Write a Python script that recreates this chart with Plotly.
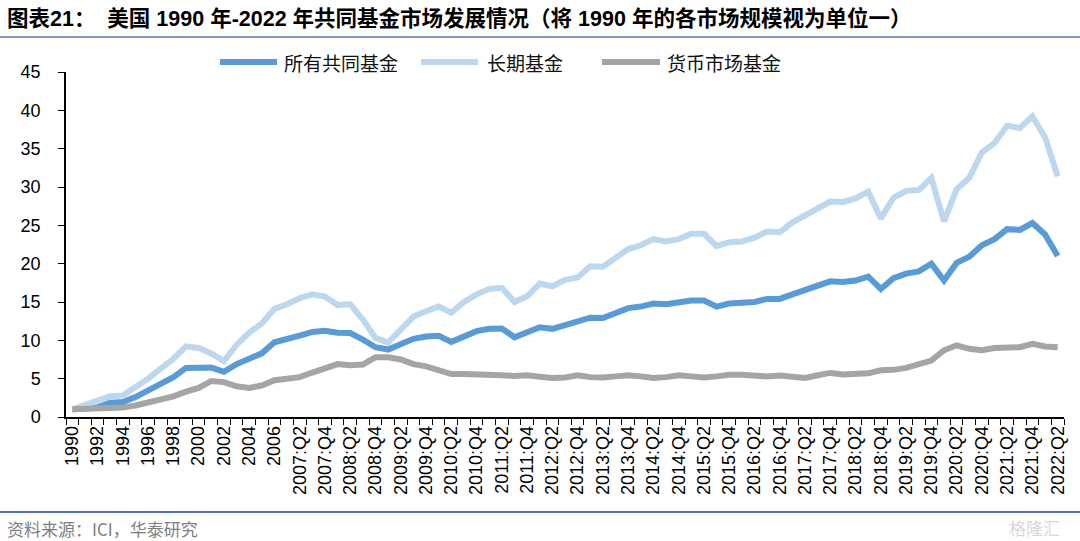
import plotly.graph_objects as go

# ---------------- data ----------------
years = [str(y) for y in range(1990, 2007)]
quarters = [f"{y}:Q{q}" for y in range(2007, 2023) for q in (1, 2, 3, 4)][:62]
categories = years + quarters

all_funds = [1.0, 1.15, 1.25, 1.85, 1.95, 2.6, 3.4, 4.2, 5.2, 6.4, 6.45, 6.45, 5.9, 6.9, 7.6, 8.3, 9.75,
             10.1, 10.6, 11.1, 11.25, 11.0, 10.95, 10.1, 9.1, 8.8, 9.5, 10.2, 10.5, 10.6, 9.8, 10.6, 11.2,
             11.5, 11.55, 10.4, 11.0, 11.7, 11.5, 12.0, 12.3, 12.95, 12.9, 13.5, 14.2, 14.4, 14.8, 14.7,
             15.0, 15.2, 15.2, 14.4, 14.8, 14.9, 15.0, 15.4, 15.4, 16.0, 16.5, 17.2, 17.7, 17.6, 17.8,
             18.3, 16.7, 18.1, 18.7, 19.0, 20.0, 17.8, 20.1, 20.9, 22.4, 23.2, 24.5, 24.4, 25.3, 23.8, 21.0]

long_term = [1.0, 1.5, 2.0, 2.7, 2.8, 3.8, 5.0, 6.3, 7.6, 9.2, 9.0, 8.3, 7.3, 9.4, 11.0, 12.2, 14.1,
             14.7, 15.5, 16.0, 15.7, 14.6, 14.7, 12.7, 10.3, 9.7, 11.4, 13.1, 13.8, 14.4, 13.6, 15.0, 16.0,
             16.7, 16.85, 15.0, 15.75, 17.4, 17.05, 17.9, 18.2, 19.65, 19.6, 20.7, 21.9, 22.4, 23.2, 22.9,
             23.2, 23.9, 23.9, 22.3, 22.8, 22.9, 23.4, 24.2, 24.1, 25.4, 26.3, 27.3, 28.1, 28.05, 28.5,
             29.4, 25.9, 28.6, 29.5, 29.6, 31.2, 25.5, 29.7, 31.2, 34.5, 35.75, 38.0, 37.7, 39.2, 36.5, 31.4]

money_market = [1.0, 1.05, 1.07, 1.15, 1.24, 1.5, 1.85, 2.2, 2.7, 3.3, 3.8, 4.7, 4.55, 4.0, 3.8, 4.1, 4.8,
                5.0, 5.2, 5.8, 6.3, 6.9, 6.75, 6.85, 7.8, 7.8, 7.5, 6.9, 6.6, 6.0, 5.6, 5.6, 5.6,
                5.5, 5.45, 5.35, 5.45, 5.25, 5.1, 5.15, 5.45, 5.2, 5.15, 5.3, 5.45, 5.3, 5.1, 5.2,
                5.45, 5.3, 5.15, 5.3, 5.5, 5.5, 5.35, 5.3, 5.4, 5.25, 5.1, 5.45, 5.75, 5.55, 5.6,
                5.7, 6.1, 6.15, 6.4, 6.85, 7.35, 8.7, 9.35, 8.9, 8.7, 9.0, 9.1, 9.1, 9.55, 9.2, 9.1]

series_names = ["所有共同基金", "长期基金", "货币市场基金"]
series_colors = ["#5B9BD5", "#BDD7EE", "#A5A5A5"]

title_text = "图表21：  美国 1990 年-2022 年共同基金市场发展情况（将 1990 年的各市场规模视为单位一）"
source_text = "资料来源：ICI，华泰研究"

# ---------------- figure ----------------
W, H = 1080, 541
ML, MR, MT, MB = 66, 16, 72, 124
PW, PH = W - ML - MR, H - MT - MB


def px(x):
    return (x - ML) / PW


def py(y):
    return (H - MB - y) / PH


idx = list(range(len(categories)))
fig = go.Figure()
for name, vals, col in zip(series_names, [all_funds, long_term, money_market], series_colors):
    fig.add_trace(go.Scatter(x=idx, y=vals, mode="lines", name=name,
                             line=dict(color=col, width=6), showlegend=False))

label_idx = idx[::2]
label_txt = [categories[i] for i in label_idx]

fig.update_layout(
    width=W, height=H,
    margin=dict(l=ML, r=MR, t=MT, b=MB, pad=0),
    paper_bgcolor="white", plot_bgcolor="white",
    font=dict(family="Liberation Sans, Arial, Noto Sans CJK SC", color="#000"),
    xaxis=dict(range=[-0.5, len(categories) - 0.5], tickmode="array", tickvals=label_idx,
               ticktext=label_txt, tickangle=-90, ticks="", showgrid=False, zeroline=False,
               showline=True, linecolor="#000", linewidth=1.5,
               tickfont=dict(size=18, family="Liberation Sans, Arial"),
               minor=dict(tickmode="array", tickvals=[i - 0.5 for i in range(len(categories) + 1)],
                          ticks="outside", ticklen=6, tickcolor="#000", tickwidth=1.3, showgrid=False)),
    yaxis=dict(range=[0, 45], tickmode="linear", tick0=0, dtick=5, ticks="outside", ticklen=6,
               tickcolor="#000", tickwidth=1.3, showgrid=False, zeroline=False,
               showline=True, linecolor="#000", linewidth=1.5, ticklabelstandoff=14,
               tickfont=dict(size=18, family="Liberation Sans, Arial")),
)

annotations = []
shapes = []
# title
annotations.append(dict(xref="paper", yref="paper", x=px(5), y=py(18), xanchor="left", yanchor="middle",
                        text="<b>" + title_text + "</b>", showarrow=False,
                        font=dict(size=21.5, family="Liberation Sans, Noto Sans CJK SC", color="#000")))
shapes.append(dict(type="line", xref="paper", yref="paper", x0=px(0), x1=px(W), y0=py(37), y1=py(37),
                   line=dict(color="#5776A8", width=1.5)))
shapes.append(dict(type="line", xref="paper", yref="paper", x0=px(0), x1=px(W), y0=py(512), y1=py(512),
                   line=dict(color="#5776A8", width=2)))
# legend (manual)
leg_pos = [(220, 277, 282), (421, 478, 485), (602, 660, 665)]
for (x0, x1, xt), name, col in zip(leg_pos, series_names, series_colors):
    shapes.append(dict(type="line", xref="paper", yref="paper", x0=px(x0), x1=px(x1), y0=py(62), y1=py(62),
                       line=dict(color=col, width=6)))
    annotations.append(dict(xref="paper", yref="paper", x=px(xt), y=py(62), xanchor="left", yanchor="middle",
                            text=name, showarrow=False,
                            font=dict(size=19, family="Noto Sans CJK SC", color="#111")))
# source
annotations.append(dict(xref="paper", yref="paper", x=px(5), y=py(528), xanchor="left", yanchor="middle",
                        text=source_text, showarrow=False,
                        font=dict(size=17, family="Noto Sans CJK SC", color="#7F7F7F")))
# watermark
annotations.append(dict(xref="paper", yref="paper", x=px(1062), y=py(527), xanchor="right", yanchor="middle",
                        text="格隆汇", showarrow=False,
                        font=dict(size=17, family="Noto Sans CJK SC", color="#D8D8D8")))

fig.update_layout(annotations=annotations, shapes=shapes)
fig.write_html("out.html", config={"displayModeBar": False},
               post_script="document.body.style.margin='0';")
